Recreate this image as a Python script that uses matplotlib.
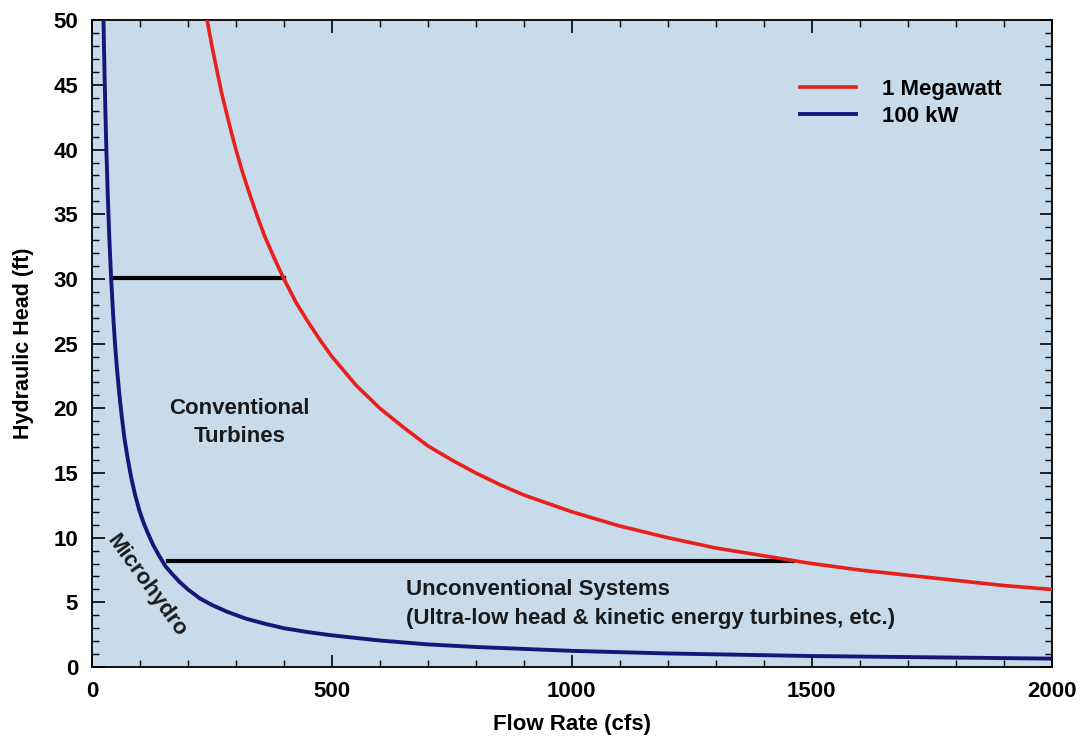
"""
Hydropower head vs. flow rate curves for 1 MW and 100 kW.
"""

import matplotlib
matplotlib.use("Agg")
import matplotlib.pyplot as plt
from matplotlib.ticker import MultipleLocator

# 1 Megawatt curve
mw_flow = [240, 250, 260, 270, 280, 290, 300, 315, 330, 345, 360, 380, 400, 425,
           450, 475, 500, 550, 600, 650, 700, 750, 800, 850, 900, 1000, 1100,
           1200, 1300, 1400, 1500, 1600, 1700, 1800, 1900, 2000]
mw_head = [50, 48, 46.2, 44.4, 42.9, 41.4, 40, 38.1, 36.4, 34.8, 33.3, 31.6, 30,
           28.2, 26.7, 25.3, 24, 21.8, 20, 18.5, 17.1, 16, 15, 14.1, 13.3, 12,
           10.9, 10, 9.2, 8.6, 8, 7.5, 7.1, 6.7, 6.3, 6]

# 100 kW curve
kw_flow = [24, 26, 28, 30, 33, 36, 40, 44, 48, 52, 57, 62, 68, 75, 82, 90, 98,
           107, 117, 128, 140, 153, 167, 182, 200, 225, 250, 280, 320, 360, 400,
           450, 500, 600, 700, 800, 1000, 1200, 1500, 1750, 2000]
kw_head = [50, 46.2, 42.9, 40, 36.4, 33.3, 30, 27.3, 25, 23.1, 21.1, 19.4, 17.6,
           16, 14.6, 13.3, 12.2, 11.2, 10.3, 9.4, 8.6, 7.8, 7.2, 6.6, 6, 5.3,
           4.8, 4.3, 3.75, 3.35, 3, 2.7, 2.45, 2.05, 1.75, 1.55, 1.25, 1.05,
           0.85, 0.75, 0.65]

# Region boundaries (flow start, flow end, head)
bound_flow_start = [44, 158]
bound_flow_end = [400, 1460]
bound_head = [30.1, 8.2]

plt.rcParams['font.family'] = ['Liberation Sans', 'DejaVu Sans']

fig = plt.figure(figsize=(10.82, 7.4), dpi=100)
ax = fig.add_axes([0.085, 0.0986, 0.887, 0.874])
ax.set_facecolor("#c8dbea")

for xs, xe, h in zip(bound_flow_start, bound_flow_end, bound_head):
    ax.plot([xs, xe], [h, h], color="black", linewidth=3, zorder=2)

ax.plot(mw_flow, mw_head, color="#e8201c", linewidth=2.6, label="1 Megawatt", zorder=3)
ax.plot(kw_flow, kw_head, color="#17177a", linewidth=2.8, label="100 kW", zorder=3)

ax.set_xlim(0, 2000)
ax.set_ylim(0, 50)
ax.xaxis.set_major_locator(MultipleLocator(500))
ax.xaxis.set_minor_locator(MultipleLocator(100))
ax.yaxis.set_major_locator(MultipleLocator(5))
ax.yaxis.set_minor_locator(MultipleLocator(1))
ax.tick_params(which="both", direction="in", top=True, right=True)
ax.tick_params(which="major", length=9, width=1.2, labelsize=16, pad=10)
ax.tick_params(which="minor", length=5, width=1)
for lab in ax.get_xticklabels() + ax.get_yticklabels():
    lab.set_fontweight("bold")
for sp in ax.spines.values():
    sp.set_linewidth(1.3)

ax.set_xlabel("Flow Rate (cfs)", fontsize=16, fontweight="bold", labelpad=9)
ax.set_ylabel("Hydraulic Head (ft)", fontsize=15.5, fontweight="bold", labelpad=14)

ax.text(308, 18.9, "Conventional\nTurbines", ha="center", va="center",
        fontsize=16, fontweight="bold", color="#1a1a1a", linespacing=1.45)
ax.text(654, 4.87, "Unconventional Systems\n(Ultra-low head & kinetic energy turbines, etc.)",
        ha="left", va="center", fontsize=16, fontweight="bold", color="#1a1a1a",
        linespacing=1.45)
ax.text(113, 6.3, "Microhydro", ha="center", va="center", rotation=-54,
        fontsize=16, fontweight="bold", color="#1a1a1a", rotation_mode="anchor")

leg = ax.legend(loc="upper right", bbox_to_anchor=(0.969, 0.94), frameon=False,
                prop={"weight": "bold", "size": 16}, handlelength=2.5,
                labelspacing=0.25, handletextpad=1.2)

fig.savefig("out.png", dpi=100)
